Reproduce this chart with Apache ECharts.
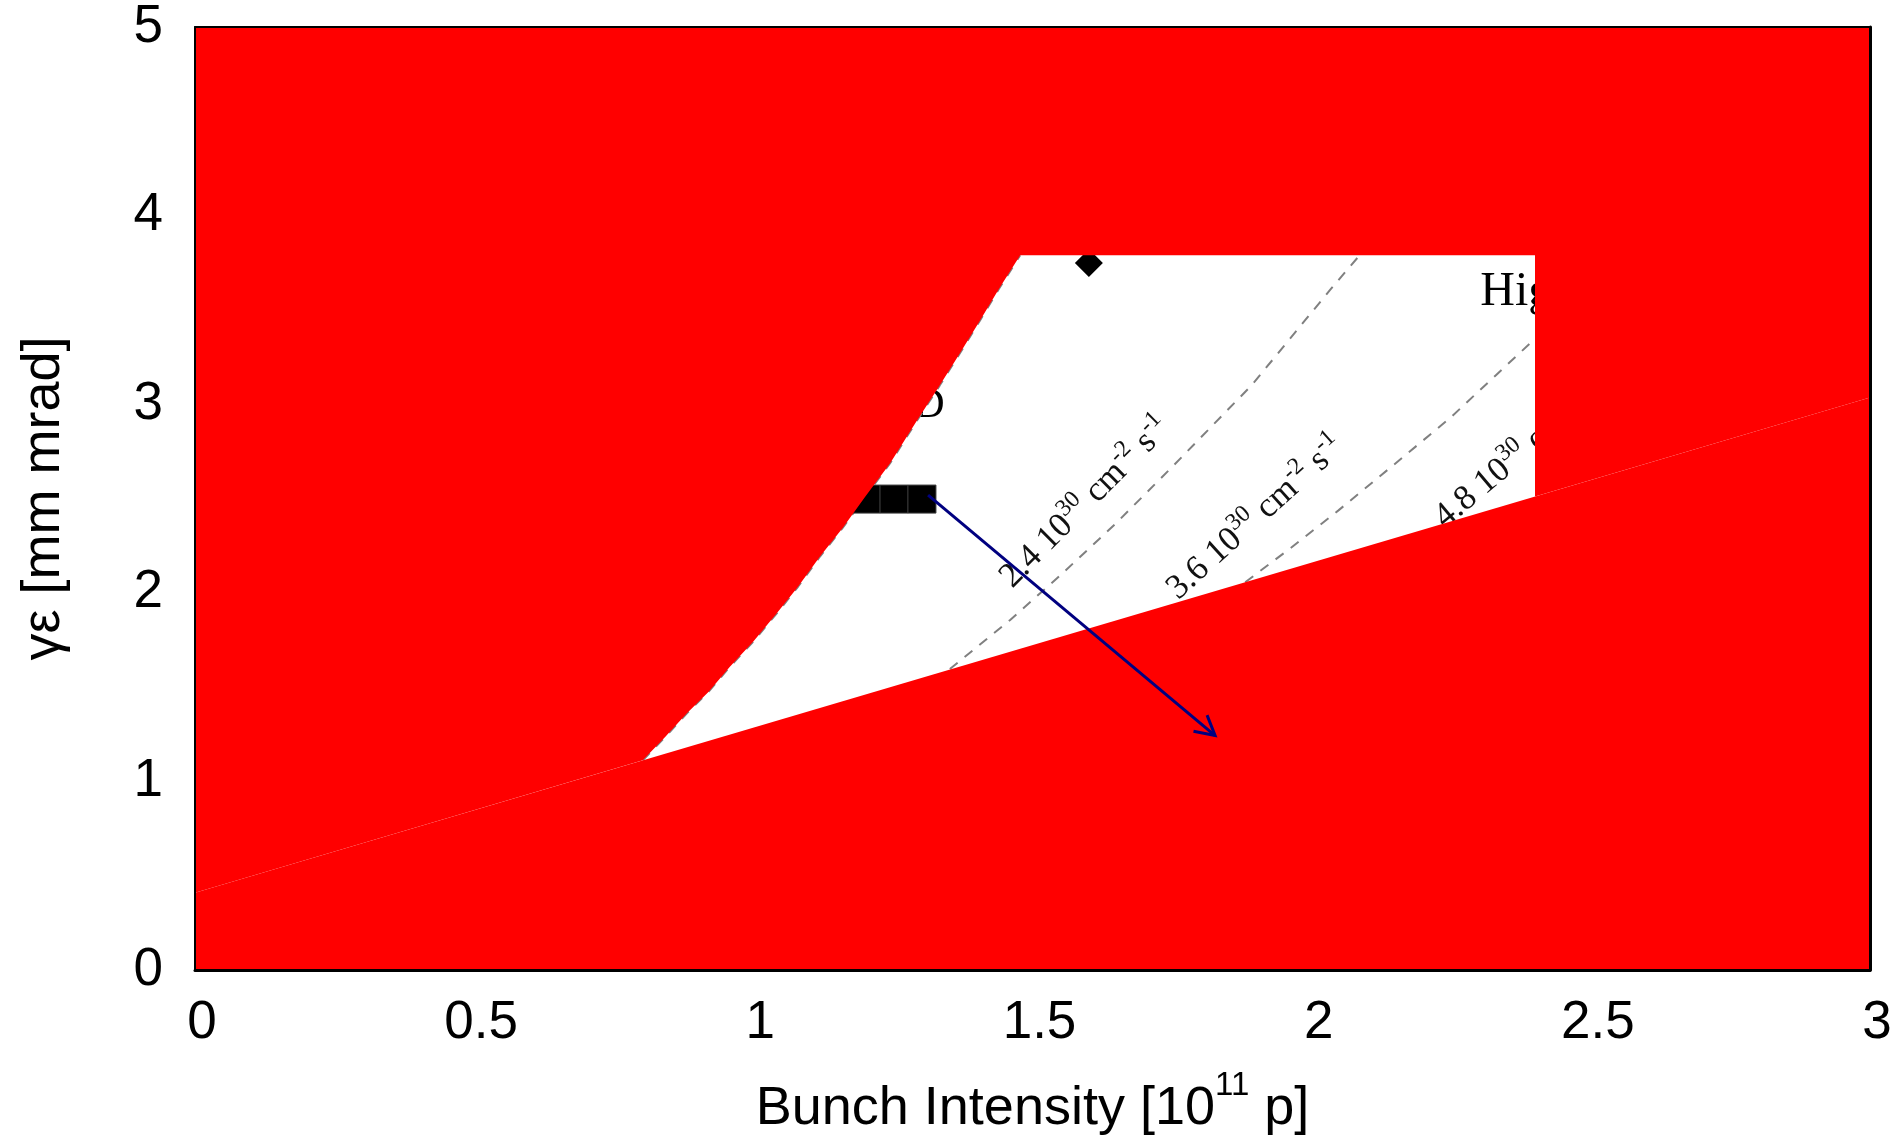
<!DOCTYPE html>
<html>
<head>
<meta charset="utf-8">
<script src="https://cdn.jsdelivr.net/npm/echarts@6/dist/echarts.min.js"></script>
<style>
  html, body { margin: 0; padding: 0; background: #fff; }
  #chart { width: 1897px; height: 1141px; }
</style>
</head>
<body>
<div id="chart"></div>
<script>
// tick labels
const xTicks = ['0', '0.5', '1', '1.5', '2', '2.5', '3'];
const yTicks = ['0', '1', '2', '3', '4', '5'];

// left edge of the open (white) window, it follows the 1.2e30 contour
const edgeCurve = [[0.802, 1.112], [0.842, 1.235], [0.881, 1.361], [0.92, 1.476], [0.958, 1.608],
  [1.0, 1.742], [1.042, 1.891], [1.08, 2.032], [1.119, 2.191], [1.16, 2.344], [1.2, 2.508],
  [1.245, 2.687], [1.29, 2.899], [1.334, 3.1], [1.37, 3.27], [1.406, 3.444], [1.44, 3.612], [1.478, 3.79]];
// straight lower edge of the window, continued to both sides of the plot
const lowerEdge = [[0, 0.41], [3, 3.035]];
const windowTop = 3.79;
const windowRight = 2.4;
const windowCorner = 2.51;

// luminosity contours (dashed)
const lum24 = [[1.352, 1.596], [1.46, 1.856], [1.55, 2.093], [1.65, 2.37], [1.75, 2.667],
  [1.893, 3.102], [2.033, 3.606], [2.086, 3.79]];
const lum36 = [[1.881, 2.056], [1.96, 2.232], [2.048, 2.437], [2.15, 2.686], [2.248, 2.927],
  [2.33, 3.154], [2.399, 3.344]];
const lumValues = ['2.4', '3.6', '4.8'];
const lumAnchors = [[1.595, 2.478], [1.9, 2.397], [2.383, 2.761]];
const lumAngles = [45, 42, 40];

// markers
const squarePts = [[1.202, 2.497], [1.252, 2.497], [1.302, 2.497]];
const diamondPts = [[1.601, 3.749]];
const arrowFrom = [1.313, 2.518];
const arrowTo = [1.827, 1.243];

// text notes partly hidden by the red area
const noteTexts = ['D', 'High Luminosity'];
const noteAnchors = [[1.288, 2.988], [2.302, 3.592]];
const noteSizes = [42, 48];

const RED = '#ff0000';
const serif = 'Liberation Serif';
const sans = 'Liberation Sans';
const dashed = { color: '#808080', width: 2, type: [10, 9] };

const chart = echarts.init(document.getElementById('chart'));

const option = {
  animation: false,
  backgroundColor: '#fff',
  grid: { left: 195, right: 27, top: 27, bottom: 171, outerBoundsMode: 'none', containLabel: false },
  xAxis: [
    {
      type: 'value', min: 0, max: 3, interval: 0.5, position: 'bottom', z: 10,
      axisLine: { show: true, onZero: false, lineStyle: { color: '#000', width: 3 } },
      axisTick: { show: false },
      splitLine: { show: false },
      axisLabel: {
        fontSize: 53, fontFamily: sans, color: '#000', margin: 27, padding: [0, 0, 0, 14],
        formatter: v => xTicks[Math.round(v / 0.5)]
      },
      name: '{a|Bunch Intensity [10}{s|11}{a| p]}',
      nameLocation: 'middle',
      nameGap: 99,
      nameTextStyle: {
        rich: {
          a: { fontSize: 54, fontFamily: sans, color: '#000', lineHeight: 80 },
          s: { fontSize: 33, fontFamily: sans, color: '#000', lineHeight: 30, verticalAlign: 'top' }
        }
      }
    },
    {
      type: 'value', min: 0, max: 3, interval: 0.5, position: 'top', z: 10,
      axisLine: { show: true, onZero: false, lineStyle: { color: '#000', width: 2 } },
      axisTick: { show: false }, axisLabel: { show: false }, splitLine: { show: false }
    }
  ],
  yAxis: [
    {
      type: 'value', min: 0, max: 5, interval: 1, position: 'left', z: 10,
      axisLine: { show: true, onZero: false, lineStyle: { color: '#000', width: 2 } },
      axisTick: { show: false },
      splitLine: { show: false },
      axisLabel: {
        fontSize: 53, fontFamily: sans, color: '#000', margin: 32,
        formatter: v => yTicks[Math.round(v)]
      },
      name: 'γε [mm mrad]',
      nameLocation: 'middle',
      nameGap: 124,
      nameTextStyle: { fontSize: 54, fontFamily: sans, color: '#000' }
    },
    {
      type: 'value', min: 0, max: 5, interval: 1, position: 'right', z: 10,
      axisLine: { show: true, onZero: false, lineStyle: { color: '#000', width: 3 } },
      axisTick: { show: false }, axisLabel: { show: false }, splitLine: { show: false }
    }
  ],
  series: [
    // dashed contours under the red mask
    { type: 'line', data: edgeCurve, symbol: 'none', silent: true, z: 2, lineStyle: dashed },
    { type: 'line', data: lum24, symbol: 'none', silent: true, z: 2, lineStyle: dashed },
    { type: 'line', data: lum36, symbol: 'none', silent: true, z: 2, lineStyle: dashed },
    {
      type: 'scatter', data: squarePts, symbol: 'rect', symbolSize: 28, z: 2, silent: true,
      itemStyle: { color: '#000', borderColor: '#3a3a3a', borderWidth: 1, opacity: 1 }
    },
    {
      type: 'scatter', data: diamondPts, symbol: 'diamond', symbolSize: [28, 28], z: 2, silent: true,
      itemStyle: { color: '#000', opacity: 1 }
    },
    // luminosity labels
    {
      type: 'custom', z: 2, silent: true, data: lumAnchors,
      renderItem: function (params, api) {
        const p = api.coord([api.value(0), api.value(1)]);
        const i = params.dataIndex;
        return {
          type: 'text', x: p[0], y: p[1],
          rotation: lumAngles[i] * Math.PI / 180,
          style: {
            text: '{m|' + lumValues[i] + ' 10}{s|30}{m| cm}{s|-2}{m| s}{s|-1}',
            align: 'center', verticalAlign: 'middle',
            rich: {
              m: { fontSize: 35, fontFamily: serif, fill: '#111', lineHeight: 46 },
              s: { fontSize: 24, fontFamily: serif, fill: '#111', lineHeight: 22, verticalAlign: 'top' }
            }
          }
        };
      }
    },
    // notes
    {
      type: 'custom', z: 2, silent: true, data: noteAnchors,
      renderItem: function (params, api) {
        const p = api.coord([api.value(0), api.value(1)]);
        const i = params.dataIndex;
        return {
          type: 'text', x: p[0], y: p[1],
          style: {
            text: noteTexts[i], fill: '#000',
            font: noteSizes[i] + 'px "' + serif + '"',
            align: 'left', verticalAlign: 'middle'
          }
        };
      }
    },
    // red mask with the white window cut out
    {
      type: 'custom', z: 3, silent: true, clip: true, data: [0],
      renderItem: function (params, api) {
        const upper = [lowerEdge[0]].concat(edgeCurve, [
          [windowRight, windowTop], [windowRight, windowCorner], lowerEdge[1], [3, 5], [0, 5]
        ]);
        const lower = [lowerEdge[0], lowerEdge[1], [3, 0], [0, 0]];
        return {
          type: 'group',
          children: [
            { type: 'polygon', shape: { points: upper.map(q => api.coord(q)) }, style: { fill: RED } },
            { type: 'polygon', shape: { points: lower.map(q => api.coord(q)) }, style: { fill: RED } }
          ]
        };
      }
    },
    // arrow on top
    {
      type: 'custom', z: 4, silent: true, data: [0],
      renderItem: function (params, api) {
        const a = api.coord(arrowFrom);
        const b = api.coord(arrowTo);
        const ang = Math.atan2(b[1] - a[1], b[0] - a[0]);
        const L = 22, spread = 0.5;
        const h1 = [b[0] - L * Math.cos(ang - spread), b[1] - L * Math.sin(ang - spread)];
        const h2 = [b[0] - L * Math.cos(ang + spread), b[1] - L * Math.sin(ang + spread)];
        return {
          type: 'group',
          children: [
            { type: 'line', shape: { x1: a[0], y1: a[1], x2: b[0], y2: b[1] }, style: { stroke: '#000080', lineWidth: 3 } },
            { type: 'polyline', shape: { points: [h1, b, h2] }, style: { stroke: '#000080', lineWidth: 3, fill: null } }
          ]
        };
      }
    }
  ]
};

chart.setOption(option);
</script>
</body>
</html>
